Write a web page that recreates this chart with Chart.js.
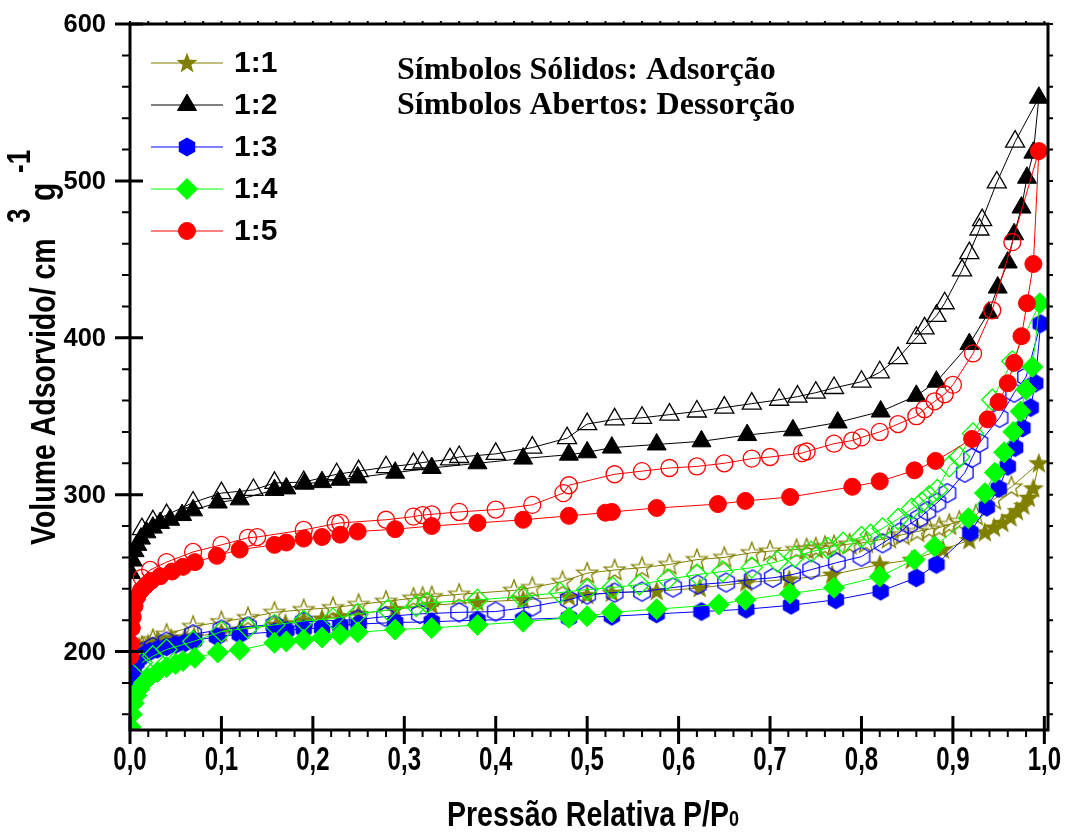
<!DOCTYPE html>
<html>
<head>
<meta charset="utf-8">
<title>Isotermas</title>
<script src="https://cdn.jsdelivr.net/npm/chart.js@4.4.1/dist/chart.umd.min.js"></script>
<style>
  html, body { margin: 0; padding: 0; background: #fff; }
  canvas { display: block; }
</style>
</head>
<body>
<canvas id="isoChart" width="1068" height="832" style="width:1068px;height:832px"></canvas>
<script>
// tick labels
const xTicks = [0.0, 0.1, 0.2, 0.3, 0.4, 0.5, 0.6, 0.7, 0.8, 0.9, 1.0];
const yTicks = [200, 300, 400, 500, 600];
const sampleNames = ["1:1", "1:2", "1:3", "1:4", "1:5"];

// 1:1 - adsorption (filled) / desorption (open)
const p11Ads = [0.0005, 0.002, 0.005, 0.01, 0.02, 0.03, 0.045, 0.06, 0.07, 0.1, 0.12, 0.16, 0.17, 0.19, 0.21, 0.23, 0.25, 0.29, 0.33, 0.38, 0.43, 0.48, 0.50, 0.527, 0.576, 0.623, 0.674, 0.721, 0.768, 0.82, 0.855, 0.889, 0.918, 0.935, 0.945, 0.954, 0.963, 0.97, 0.977, 0.983, 0.988, 0.994];
const v11Ads = [192, 197, 200, 203, 205, 207, 208.5, 209, 209.5, 212, 214, 217, 218, 219.5, 221, 222.5, 224, 227, 229.5, 231.5, 233, 235, 236, 237.5, 238.5, 240.5, 244, 246, 249, 255.5, 258.5, 265, 271, 276, 279, 282, 285.5, 289.5, 293, 298, 304, 320];
const p11Des = [0.994, 0.964, 0.945, 0.925, 0.907, 0.896, 0.885, 0.874, 0.861, 0.845, 0.83, 0.805, 0.787, 0.77, 0.76, 0.75, 0.74, 0.729, 0.70, 0.68, 0.65, 0.62, 0.59, 0.56, 0.53, 0.50, 0.473, 0.44, 0.42, 0.36, 0.33, 0.32, 0.31, 0.28, 0.25, 0.222, 0.19, 0.158, 0.129, 0.10, 0.069, 0.04, 0.025, 0.013];
const v11Des = [320, 305, 297, 287, 283, 281, 279, 278, 276.5, 274.5, 272.5, 269.5, 268.5, 267.5, 267, 266, 265.5, 265, 264, 263, 260, 258.6, 255.5, 253.5, 252, 250, 244.6, 240.8, 239, 236.5, 235, 234.5, 234, 232, 230, 228, 226.7, 225, 221.6, 219, 216, 211, 207.6, 203];

// 1:2
const p12Ads = [0.001, 0.003, 0.005, 0.008, 0.012, 0.018, 0.025, 0.033, 0.044, 0.057, 0.069, 0.096, 0.12, 0.158, 0.171, 0.191, 0.21, 0.23, 0.249, 0.29, 0.33, 0.38, 0.43, 0.48, 0.50, 0.527, 0.576, 0.625, 0.675, 0.725, 0.774, 0.821, 0.86, 0.882, 0.918, 0.939, 0.949, 0.96, 0.967, 0.975, 0.981, 0.988, 0.994];
const v12Ads = [250, 258, 264, 268, 272, 276, 279, 282, 284, 287, 290, 295, 297, 303, 304, 307, 308, 309.5, 311, 314, 317, 320, 323, 325.5, 327, 330, 332, 334, 338, 341, 346, 353, 363, 372, 396, 416, 432, 448, 466, 483, 502, 518, 553];
const p12Des = [0.994, 0.968, 0.948, 0.932, 0.929, 0.918, 0.91, 0.891, 0.882, 0.869, 0.86, 0.84, 0.82, 0.80, 0.77, 0.75, 0.73, 0.71, 0.68, 0.65, 0.62, 0.59, 0.56, 0.53, 0.50, 0.478, 0.44, 0.40, 0.36, 0.35, 0.32, 0.31, 0.28, 0.25, 0.226, 0.19, 0.158, 0.135, 0.10, 0.069, 0.04, 0.025, 0.013];
const v12Des = [553, 525, 499, 475, 469, 454, 443, 422, 414, 406, 400, 387, 378, 372, 368, 365, 362.5, 360.5, 358, 355.5, 353, 351, 349, 348, 345, 336, 330, 326, 324, 322.5, 320.5, 319.5, 317.5, 315, 313, 308, 307.5, 303, 301, 295, 287, 283, 278];

// 1:3
const p13Ads = [0.0005, 0.002, 0.004, 0.007, 0.01, 0.015, 0.022, 0.03, 0.04, 0.05, 0.06, 0.07, 0.095, 0.12, 0.158, 0.171, 0.19, 0.21, 0.23, 0.25, 0.29, 0.33, 0.38, 0.43, 0.48, 0.527, 0.576, 0.625, 0.674, 0.723, 0.772, 0.821, 0.86, 0.882, 0.919, 0.937, 0.95, 0.96, 0.968, 0.976, 0.985, 0.99, 0.996];
const v13Ads = [178, 184, 189, 193, 195.5, 198, 200, 201.5, 203, 204.5, 205.5, 207, 209.5, 211, 212.5, 213.5, 214.5, 215, 216.5, 217.5, 218.5, 219, 220, 220.5, 221.5, 222.5, 224, 225.5, 227, 229.5, 233, 238.5, 247, 255.5, 276, 292, 304, 318, 330, 342.5, 355.5, 371, 409];
const p13Des = [0.996, 0.98, 0.967, 0.951, 0.929, 0.921, 0.913, 0.894, 0.883, 0.872, 0.863, 0.852, 0.842, 0.823, 0.80, 0.773, 0.745, 0.724, 0.703, 0.681, 0.652, 0.621, 0.594, 0.56, 0.53, 0.50, 0.48, 0.44, 0.40, 0.36, 0.317, 0.279, 0.249, 0.19, 0.158, 0.129, 0.10, 0.069, 0.04, 0.025, 0.013];
const v13Des = [409, 375, 365, 349, 333, 323.5, 314, 301, 295, 289.5, 285, 281, 276, 269, 260.5, 256.7, 252.2, 249, 247, 246, 244, 242.7, 240.8, 238.2, 237.6, 236.3, 233, 228.7, 225.5, 225, 224, 222.3, 220.4, 219, 217, 216, 214, 211, 206.4, 203, 199.4];

// 1:4
const p14Ads = [0.0005, 0.002, 0.004, 0.007, 0.01, 0.015, 0.02, 0.03, 0.04, 0.05, 0.058, 0.071, 0.096, 0.12, 0.158, 0.171, 0.19, 0.21, 0.23, 0.249, 0.29, 0.33, 0.38, 0.43, 0.48, 0.50, 0.527, 0.576, 0.644, 0.673, 0.722, 0.77, 0.82, 0.858, 0.88, 0.917, 0.935, 0.946, 0.956, 0.966, 0.974, 0.98, 0.987, 0.995];
const v14Ads = [152, 160, 167, 172, 176, 180, 183, 187, 190, 192, 194, 196, 199.4, 201, 205.6, 206.4, 207.6, 209, 210.8, 212.3, 214, 215, 217, 219, 221.5, 222.5, 225, 227, 230, 233, 237, 240.7, 247.8, 258.6, 267, 285, 301, 314, 327, 340, 353, 367, 381.5, 422];
const p14Des = [0.995, 0.965, 0.943, 0.922, 0.907, 0.896, 0.883, 0.874, 0.866, 0.855, 0.84, 0.823, 0.81, 0.80, 0.78, 0.763, 0.745, 0.727, 0.708, 0.68, 0.648, 0.62, 0.588, 0.557, 0.528, 0.50, 0.47, 0.428, 0.38, 0.325, 0.313, 0.282, 0.249, 0.222, 0.19, 0.158, 0.129, 0.10, 0.069, 0.04, 0.025, 0.013];
const v14Des = [422, 385, 360.5, 339, 324, 318, 303, 299, 295, 291, 284.5, 278.5, 274.5, 273, 269.4, 266, 263.7, 260.5, 257.3, 253.5, 251, 249, 246, 242.7, 240.8, 239.5, 237.6, 235, 233, 231, 229, 226.5, 224, 221, 219.5, 217, 215, 212.7, 206.4, 201.3, 197, 193];

// 1:5
const p15Ads = [0.0005, 0.001, 0.002, 0.003, 0.005, 0.008, 0.012, 0.017, 0.023, 0.033, 0.046, 0.058, 0.071, 0.095, 0.12, 0.158, 0.171, 0.19, 0.21, 0.23, 0.249, 0.29, 0.33, 0.38, 0.43, 0.48, 0.52, 0.527, 0.576, 0.643, 0.673, 0.722, 0.79, 0.82, 0.858, 0.881, 0.921, 0.938, 0.95, 0.96, 0.967, 0.975, 0.981, 0.988, 0.994];
const v15Ads = [197, 205, 215, 222, 229, 235, 239, 242, 245, 248, 251, 254, 257, 261, 265, 268, 269.5, 272, 273, 274.5, 276.5, 278, 280, 282, 284, 286.5, 288.5, 289, 291.5, 294, 296, 298.5, 305, 308.5, 315.5, 321.5, 335.5, 348, 359, 371, 384, 401, 422, 447, 519];
const p15Des = [0.994, 0.965, 0.943, 0.922, 0.90, 0.891, 0.88, 0.869, 0.86, 0.84, 0.82, 0.80, 0.79, 0.77, 0.74, 0.735, 0.70, 0.68, 0.65, 0.62, 0.59, 0.56, 0.53, 0.48, 0.474, 0.44, 0.40, 0.36, 0.33, 0.32, 0.31, 0.28, 0.23, 0.225, 0.19, 0.139, 0.129, 0.10, 0.069, 0.04, 0.022, 0.013];
const v15Des = [519, 461, 417.5, 390, 370, 364, 359.5, 354.5, 350, 345, 340, 336.5, 334.5, 332.5, 327.5, 326.5, 324, 323, 320, 318, 317, 315, 313, 306, 301, 293.5, 290.5, 289, 287.5, 287, 286, 284, 282, 281.5, 277.5, 273, 272.5, 268, 263.5, 257, 252, 247];

const OLIVE = "#808000", BLACK = "#000000", BLUE = "#0000ff", GREEN = "#00ff00", RED = "#ff0000";
const sansBold = (size) => "bold " + size + "px Arial, 'Liberation Sans', sans-serif";

// star and hexagon markers are not built into Chart.js, so draw them on small canvases
function makeMarker(kind, color, filled) {
    const c = document.createElement("canvas");
    c.width = 26;
    c.height = 26;
    const g = c.getContext("2d");
    g.beginPath();
    if (kind === "star") {
        for (let i = 0; i < 10; i++) {
            const r = i % 2 ? 4.6 : 11;
            const a = -Math.PI / 2 + i * Math.PI / 5;
            g.lineTo(13 + r * Math.cos(a), 13.5 + r * Math.sin(a));
        }
    } else {
        for (let i = 0; i < 6; i++) {
            const a = -Math.PI / 2 + i * Math.PI / 3;
            g.lineTo(13 + 9.5 * Math.cos(a), 13 + 9.5 * Math.sin(a));
        }
    }
    g.closePath();
    if (filled) {
        g.fillStyle = color;
        g.fill();
    } else {
        g.strokeStyle = color;
        g.lineWidth = 1.3;
        g.stroke();
    }
    return c;
}

const starFull = makeMarker("star", OLIVE, true);
const starOpen = makeMarker("star", OLIVE, false);
const hexFull = makeMarker("hex", BLUE, true);
const hexOpen = makeMarker("hex", BLUE, false);

function isotherm(xs, ys, color, style, filled, radius, order, skipFirst) {
    return {
        data: xs.map((p, i) => ({ x: p, y: ys[i] })),
        showLine: true,
        borderColor: color,
        borderWidth: 1,
        pointStyle: style,
        pointRadius: skipFirst ? (c) => (c.dataIndex === 0 ? 0 : radius) : radius,
        pointBorderColor: color,
        pointBackgroundColor: filled ? color : "rgba(0,0,0,0)",
        pointBorderWidth: filled ? 1 : 1.3,
        order: order
    };
}

const datasets = [
    isotherm(p15Ads, v15Ads, RED, "circle", true, 8.5, 0, false),
    isotherm(p15Des, v15Des, RED, "circle", false, 8.5, 1, true),
    isotherm(p14Ads, v14Ads, GREEN, "rectRot", true, 10.5, 2, false),
    isotherm(p14Des, v14Des, GREEN, "rectRot", false, 10.5, 3, true),
    isotherm(p13Ads, v13Ads, BLUE, hexFull, true, 9, 4, false),
    isotherm(p13Des, v13Des, BLUE, hexOpen, false, 9, 5, true),
    isotherm(p12Ads, v12Ads, BLACK, "triangle", true, 11, 6, false),
    isotherm(p12Des, v12Des, BLACK, "triangle", false, 11, 7, true),
    isotherm(p11Ads, v11Ads, OLIVE, starFull, true, 10, 8, false),
    isotherm(p11Des, v11Des, OLIVE, starOpen, false, 10, 9, true)
];

const legendItems = [
    { color: OLIVE, style: starFull },
    { color: BLACK, style: "triangle", radius: 11 },
    { color: BLUE, style: hexFull },
    { color: GREEN, style: "rectRot", radius: 10.5 },
    { color: RED, style: "circle", radius: 8.5 }
];

// text that is drawn taller than wide, like the original figure
function tallText(ctx, text, x, y, stretch) {
    ctx.save();
    ctx.translate(x, y);
    ctx.scale(1, stretch);
    ctx.fillText(text, 0, 0);
    ctx.restore();
}

const decorPlugin = {
    id: "decor",
    afterDraw(chart) {
        const ctx = chart.ctx;
        const a = chart.chartArea;
        const xs = chart.scales.x;
        const ys = chart.scales.y;
        ctx.save();
        ctx.strokeStyle = "#000";

        // minor ticks
        ctx.lineWidth = 2;
        ctx.beginPath();
        for (let i = 0; i <= 50; i++) {
            const px = xs.getPixelForValue(i * 0.02);
            ctx.moveTo(px, a.bottom);
            ctx.lineTo(px, a.bottom + 7);
            ctx.moveTo(px, a.top);
            ctx.lineTo(px, a.top - 3);
        }
        for (let v = 160; v <= 600; v += 20) {
            const py = ys.getPixelForValue(v);
            ctx.moveTo(a.left - 8, py);
            ctx.lineTo(a.left, py);
            ctx.moveTo(a.right, py);
            ctx.lineTo(a.right + 5, py);
        }
        ctx.stroke();

        // major ticks cross the axis lines
        ctx.lineWidth = 3;
        ctx.beginPath();
        xTicks.forEach((v) => {
            const px = xs.getPixelForValue(v);
            ctx.moveTo(px, a.bottom - 14);
            ctx.lineTo(px, a.bottom + 14);
        });
        yTicks.forEach((v) => {
            const py = ys.getPixelForValue(v);
            ctx.moveTo(a.left - 15, py);
            ctx.lineTo(a.left + 13, py);
        });
        ctx.stroke();
        ctx.strokeRect(a.left, a.top, a.right - a.left, a.bottom - a.top);

        // tick labels
        ctx.fillStyle = "#000";
        ctx.font = sansBold(24);
        ctx.textAlign = "center";
        ctx.textBaseline = "alphabetic";
        xTicks.forEach((v) => {
            tallText(ctx, v.toFixed(1).replace(".", ","), xs.getPixelForValue(v), 770, 1.4);
        });
        ctx.font = sansBold(25.5);
        ctx.textAlign = "right";
        ctx.textBaseline = "middle";
        yTicks.forEach((v) => {
            ctx.fillText(String(v), 106, ys.getPixelForValue(v) + 1);
        });

        // legend
        legendItems.forEach((it, i) => {
            const y = 63 + i * 42;
            ctx.strokeStyle = it.color;
            ctx.fillStyle = it.color;
            ctx.lineWidth = 1;
            ctx.beginPath();
            ctx.moveTo(151, y);
            ctx.lineTo(223, y);
            ctx.stroke();
            if (typeof it.style === "string") {
                Chart.helpers.drawPoint(ctx, { pointStyle: it.style, radius: it.radius, rotation: 0, borderWidth: 1 }, 187, y);
            } else {
                ctx.drawImage(it.style, 187 - 13, y - 13);
            }
            ctx.fillStyle = "#000";
            ctx.font = sansBold(30);
            ctx.textAlign = "left";
            ctx.textBaseline = "middle";
            ctx.fillText(sampleNames[i], 234, y + 1);
        });

        // note on symbols
        ctx.fillStyle = "#000";
        ctx.textAlign = "left";
        ctx.textBaseline = "alphabetic";
        ctx.font = "bold 32px 'Times New Roman', 'Liberation Serif', serif";
        ctx.fillText("Símbolos Sólidos: Adsorção", 397, 79);
        ctx.fillText("Símbolos Abertos: Dessorção", 397, 114);

        // x axis title
        ctx.font = sansBold(28.5);
        const main = "Pressão Relativa P/P";
        const wMain = ctx.measureText(main).width;
        ctx.font = sansBold(18);
        const wSub = ctx.measureText("0").width;
        const x0 = 593 - (wMain + wSub) / 2;
        ctx.font = sansBold(28.5);
        tallText(ctx, main, x0, 826, 1.25);
        ctx.font = sansBold(18);
        tallText(ctx, "0", x0 + wMain, 826, 1.25);

        // y axis title with superscripts
        ctx.translate(55, 545);
        ctx.rotate(-Math.PI / 2);
        ctx.scale(1, 1.25);
        [["Volume Adsorvido/ cm", 0, 0, 28.5], ["3", 322, -20, 26], ["g", 344, 0, 30], ["-1", 372, -20, 26]].forEach((s) => {
            ctx.font = sansBold(s[3]);
            ctx.fillText(s[0], s[1], s[2]);
        });
        ctx.restore();
    }
};

new Chart(document.getElementById("isoChart").getContext("2d"), {
    type: "scatter",
    data: { datasets: datasets },
    options: {
        responsive: false,
        animation: false,
        devicePixelRatio: 1,
        events: [],
        layout: { padding: { top: 24, right: 20, left: 0, bottom: 0 } },
        plugins: { legend: { display: false }, tooltip: { enabled: false } },
        elements: { line: { tension: 0 } },
        scales: {
            x: {
                type: "linear",
                min: 0,
                max: 1.004,
                grid: { display: false, drawTicks: false },
                border: { display: false },
                afterBuildTicks: (s) => { s.ticks = xTicks.map((v) => ({ value: v })); },
                afterFit: (s) => { s.height = 102; },
                ticks: { display: false }
            },
            y: {
                type: "linear",
                min: 150,
                max: 600,
                grid: { display: false, drawTicks: false },
                border: { display: false },
                afterBuildTicks: (s) => { s.ticks = yTicks.map((v) => ({ value: v })); },
                afterFit: (s) => { s.width = 130; },
                ticks: { display: false }
            }
        }
    },
    plugins: [decorPlugin]
});
</script>
</body>
</html>
